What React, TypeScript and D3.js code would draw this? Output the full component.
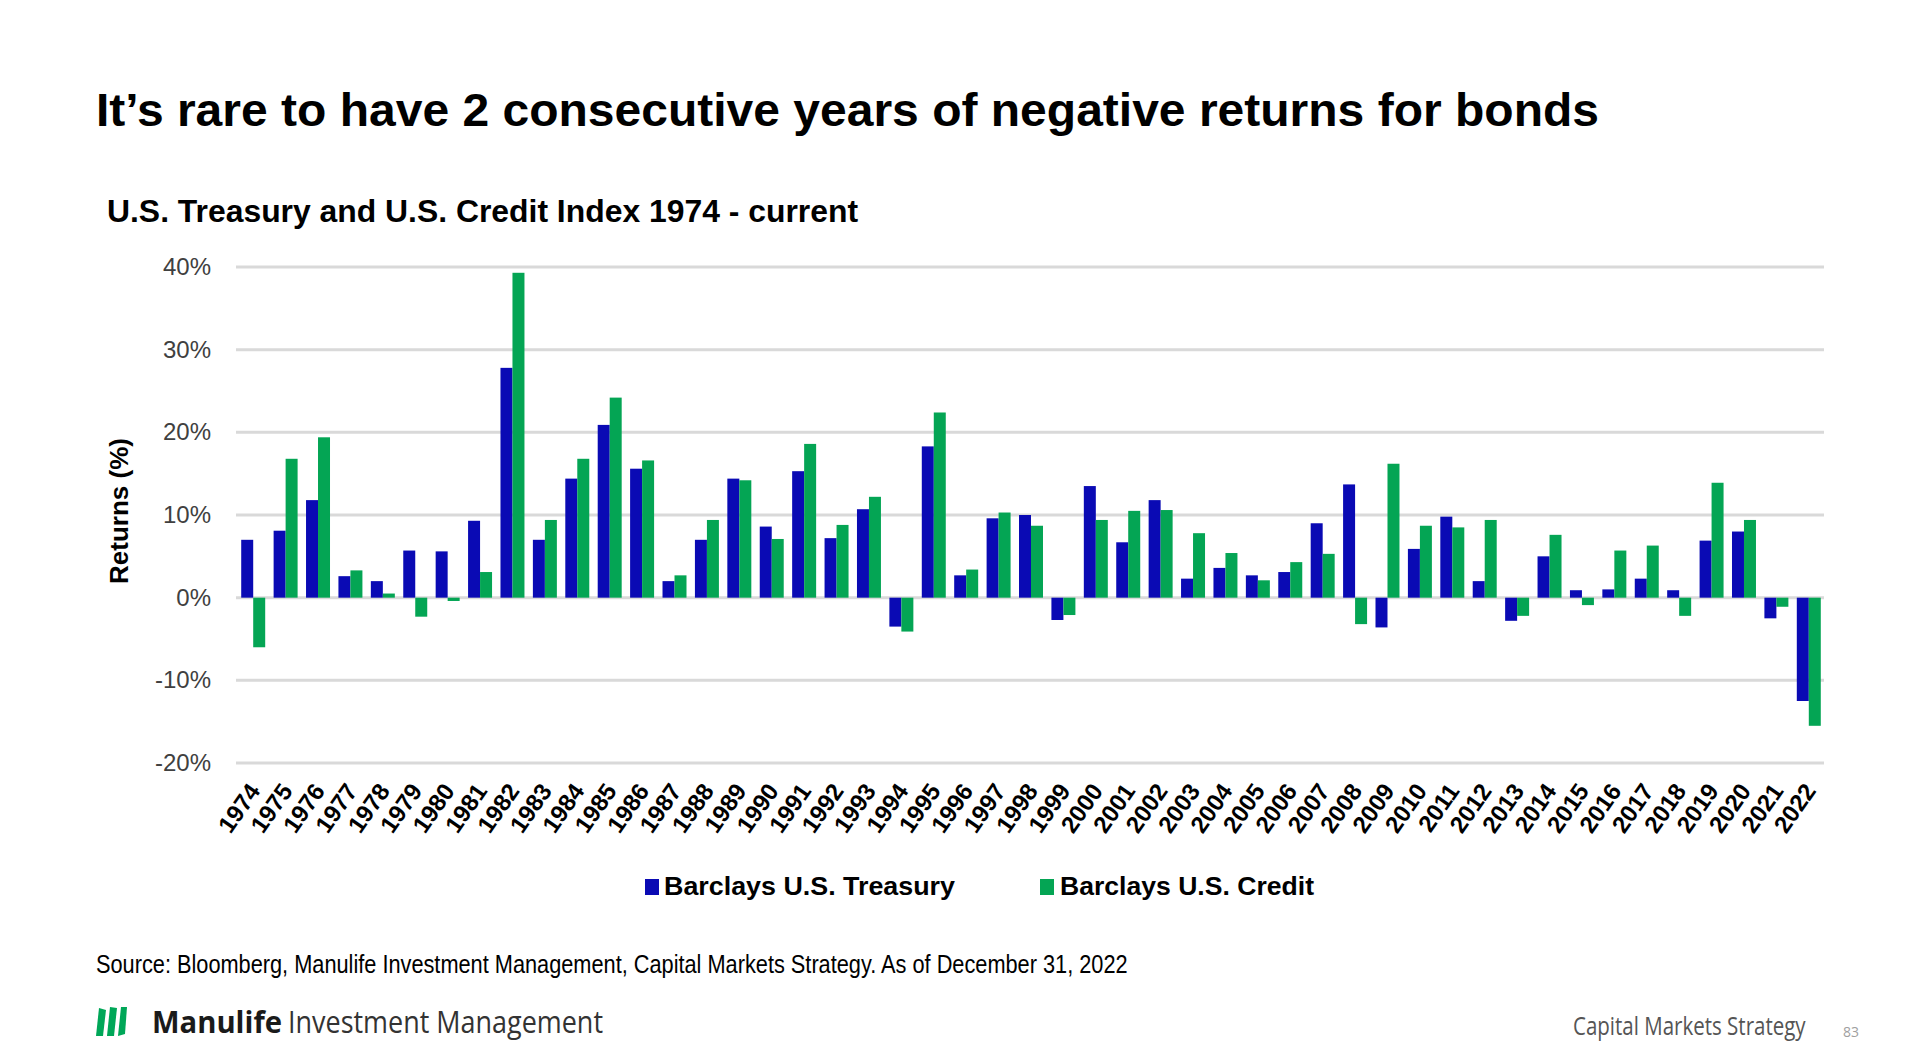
import React from "react";
import * as d3 from "d3";

const years: string[] = [
  "1974","1975","1976","1977","1978","1979","1980","1981","1982","1983",
  "1984","1985","1986","1987","1988","1989","1990","1991","1992","1993",
  "1994","1995","1996","1997","1998","1999","2000","2001","2002","2003",
  "2004","2005","2006","2007","2008","2009","2010","2011","2012","2013",
  "2014","2015","2016","2017","2018","2019","2020","2021","2022",
];

const treasury: number[] = [
  7.0, 8.1, 11.8, 2.6, 2.0, 5.7, 5.6, 9.3, 27.8, 7.0,
  14.4, 20.9, 15.6, 2.0, 7.0, 14.4, 8.6, 15.3, 7.2, 10.7,
  -3.5, 18.3, 2.7, 9.6, 10.0, -2.7, 13.5, 6.7, 11.8, 2.3,
  3.6, 2.7, 3.1, 9.0, 13.7, -3.6, 5.9, 9.8, 2.0, -2.8,
  5.0, 0.9, 1.0, 2.3, 0.9, 6.9, 8.0, -2.5, -12.5,
];

const credit: number[] = [
  -6.0, 16.8, 19.4, 3.3, 0.5, -2.3, -0.4, 3.1, 39.3, 9.4,
  16.8, 24.2, 16.6, 2.7, 9.4, 14.2, 7.1, 18.6, 8.8, 12.2,
  -4.1, 22.4, 3.4, 10.3, 8.7, -2.1, 9.4, 10.5, 10.6, 7.8,
  5.4, 2.1, 4.3, 5.3, -3.2, 16.2, 8.7, 8.5, 9.4, -2.2,
  7.6, -0.9, 5.7, 6.3, -2.2, 13.9, 9.4, -1.1, -15.5,
];

const yTicks: number[] = [-20, -10, 0, 10, 20, 30, 40];

const seriesNames: string[] = ["Barclays U.S. Treasury", "Barclays U.S. Credit"];
const seriesColors: string[] = ["#0a0ab4", "#04a554"];

const titleText = "It\u2019s rare to have 2 consecutive years of negative returns for bonds";
const subtitleText = "U.S. Treasury and U.S. Credit Index 1974 - current";
const sourceText =
  "Source: Bloomberg, Manulife Investment Management, Capital Markets Strategy. As of December 31, 2022";

const ARIAL = "Arial, 'Liberation Sans', Helvetica, sans-serif";
const HUMAN = "'Open Sans', 'Noto Sans', sans-serif";

export default function App() {
  const W = 1920;
  const H = 1045;
  const left = 236;
  const right = 1824;
  const top = 267;
  const bottom = 763;

  const x = d3.scaleBand<string>().domain(years).range([left, right]).paddingInner(0).paddingOuter(0);
  const y = d3.scaleLinear().domain([-20, 40]).range([bottom, top]);
  const groupW = x.bandwidth() * 0.74;
  const inner = d3.scaleBand<number>().domain([0, 1]).range([0, groupW]).padding(0);
  const offset = (x.bandwidth() - groupW) / 2 + 1;
  const series = [treasury, credit];

  return (
    <svg
      width={W}
      height={H}
      viewBox={`0 0 ${W} ${H}`}
      style={{ position: "absolute", left: 0, top: 0, background: "#fff" }}
    >
      <rect x={0} y={0} width={W} height={H} fill="#fff" />
      <text x={96} y={126} fontFamily={ARIAL} fontWeight="bold" fontSize={47} fill="#000"
        textLength={1503} lengthAdjust="spacingAndGlyphs">
        {titleText}
      </text>
      <text x={107} y={222} fontFamily={ARIAL} fontWeight="bold" fontSize={31} fill="#000"
        textLength={751} lengthAdjust="spacingAndGlyphs">
        {subtitleText}
      </text>

      {/* gridlines */}
      {yTicks.map((t) => (
        <line key={"g" + t} x1={left} x2={right} y1={y(t)} y2={y(t)} stroke="#d9d9d9" strokeWidth={3} />
      ))}
      {yTicks.map((t) => (
        <text key={"t" + t} x={211} y={y(t) + 8} textAnchor="end" fontFamily={ARIAL}
          fontSize={24} fill="#404040">
          {`${t}%`}
        </text>
      ))}
      <text transform={`translate(128,511) rotate(-90)`} textAnchor="middle" fontFamily={ARIAL}
        fontWeight="bold" fontSize={26} fill="#000">
        Returns (%)
      </text>

      {/* bars */}
      {series.map((vals, si) =>
        vals.map((v, i) => {
          const bx = (x(years[i]) as number) + offset + (inner(si) as number);
          const y0 = y(0);
          const y1 = y(v);
          return (
            <rect key={`b${si}-${i}`} x={bx} y={Math.min(y0, y1)} width={inner.bandwidth()}
              height={Math.abs(y1 - y0)} fill={seriesColors[si]} />
          );
        })
      )}

      {/* x labels */}
      {years.map((yr) => {
        const cx = (x(yr) as number) + x.bandwidth() / 2;
        return (
          <text key={"x" + yr} transform={`translate(${cx + 9},${bottom + 28}) rotate(-55)`}
            textAnchor="end" fontFamily={ARIAL} fontWeight="bold" fontSize={24} fill="#000">
            {yr}
          </text>
        );
      })}

      {/* legend */}
      <rect x={645} y={879} width={14} height={16} fill={seriesColors[0]} />
      <text x={664} y={895} fontFamily={ARIAL} fontWeight="bold" fontSize={26} fill="#000"
        textLength={291} lengthAdjust="spacingAndGlyphs">
        {seriesNames[0]}
      </text>
      <rect x={1040} y={879} width={14} height={16} fill={seriesColors[1]} />
      <text x={1060} y={895} fontFamily={ARIAL} fontWeight="bold" fontSize={26} fill="#000"
        textLength={254} lengthAdjust="spacingAndGlyphs">
        {seriesNames[1]}
      </text>

      {/* source (condensed) */}
      <text transform="translate(96,973) scale(0.87,1)" fontFamily={ARIAL} fontSize={25} fill="#000">
        {sourceText}
      </text>

      {/* footer logo */}
      <g fill="#00a758">
        <path d="M96,1036 L103,1036 L106,1010 L99,1008 Z" />
        <path d="M107,1036 L114,1036 L117,1008 L110,1007 Z" />
        <path d="M118,1036 L125,1034 L127,1007 L121,1007 Z" />
      </g>
      <text x={152} y={1033} fontFamily={HUMAN} fontWeight="bold" fontSize={31} fill="#1a1a1a"
        textLength={130} lengthAdjust="spacingAndGlyphs">
        Manulife
      </text>
      <text x={288} y={1033} fontFamily={HUMAN} fontWeight={400} fontSize={31} fill="#333"
        textLength={315} lengthAdjust="spacingAndGlyphs">
        Investment Management
      </text>
      <text transform="translate(1573,1035) scale(0.82,1)" fontFamily={HUMAN} fontSize={25} fill="#555">
        Capital Markets Strategy
      </text>
      <text x={1843} y={1037} fontFamily={HUMAN} fontSize={14} fill="#a0a0a0">
        83
      </text>
    </svg>
  );
}
